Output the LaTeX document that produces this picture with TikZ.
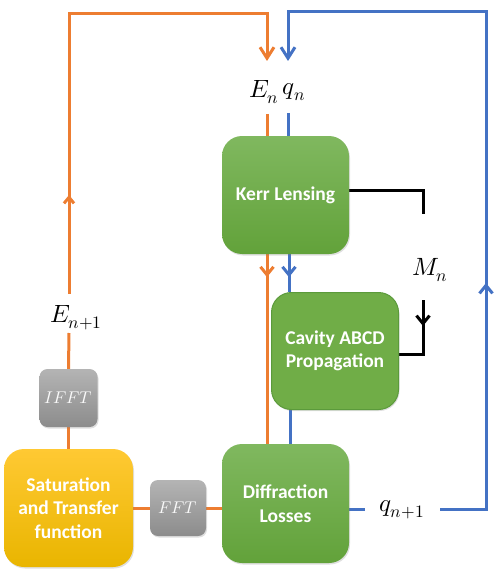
\documentclass[tikz,border=0pt]{standalone}
\usepackage{fontspec}
\setmainfont{Carlito}
\usepackage{unicode-math}
\setmathfont{Latin Modern Math}
\usetikzlibrary{arrows.meta,shadows,decorations.markings,backgrounds}
\definecolor{gtop}{HTML}{80B85F}
\definecolor{gbot}{HTML}{62A23A}
\definecolor{gflat}{HTML}{70AD47}
\definecolor{gedge}{HTML}{5B9A3B}
\definecolor{ytop}{HTML}{FFC933}
\definecolor{ybot}{HTML}{E9B500}
\definecolor{ktop}{HTML}{B4B4B4}
\definecolor{kbot}{HTML}{8C8C8C}
\definecolor{corange}{HTML}{ED7D31}
\definecolor{cblue}{HTML}{4472C4}
\begin{document}
\begin{tikzpicture}[x=1pt,y=-1pt,
  boxshadow/.style={drop shadow={opacity=0.25,shadow xshift=1pt,shadow yshift=-1.5pt}},
  bigbox/.style={rounded corners=20pt,draw=none,text=white,align=center,inner sep=0pt,
    font=\bfseries\fontsize{19.5}{23.5}\selectfont,boxshadow},
  greenbox/.style={bigbox,top color=gtop,bottom color=gbot},
  flatbox/.style={bigbox,fill=gflat,draw=gedge,line width=1pt},
  yellowbox/.style={bigbox,top color=ytop,bottom color=ybot},
  graybox/.style={rounded corners=8pt,top color=ktop,bottom color=kbot,draw=none,
    text=white!96!gray,inner sep=0pt,font=\fontsize{17}{19}\selectfont,boxshadow},
  mlabel/.style={inner sep=0pt,font=\fontsize{25}{28}\selectfont},
  oline/.style={draw=corange,line width=3pt},
  bline/.style={draw=cblue,line width=3pt},
  kline/.style={draw=black,line width=3pt},
  bigtip/.style={-{Straight Barb[length=11pt,width=14pt]}},
  midarrow/.style={postaction={decorate,decoration={markings,
     mark=at position #1 with {\arrow{Straight Barb[length=8pt,width=13pt]}}}}},
  smallarrow/.style={postaction={decorate,decoration={markings,
     mark=at position #1 with {\arrow{Straight Barb[length=6pt,width=10pt]}}}}}
]
\useasboundingbox (0,0) rectangle (498,575);

% boxes
\node[greenbox,minimum width=127pt,minimum height=118pt] (kerr) at (285.5,195) {Kerr Lensing};
\node[flatbox,minimum width=127pt,minimum height=117pt] (cav) at (335,351) {Cavity ABCD\\Propagation};
\node[greenbox,minimum width=127pt,minimum height=119pt] (diff) at (285.5,503.5) {Diffraction\\Losses};
\node[yellowbox,minimum width=129pt,minimum height=118pt] (sat) at (68.5,508) {Saturation\\and Transfer\\function};
\node[graybox,minimum width=56pt,minimum height=56pt] (fft) at (178,508) {$FFT$};
\node[graybox,minimum width=58pt,minimum height=58pt] (ifft) at (68.5,398) {$IFFT$};

% labels
\node[mlabel] (en) at (264,92) {$E_n$};
\node[mlabel] (qn) at (294,92) {$q_n$};
\node[mlabel] (enp1) at (76,318) {$E_{n+1}$};
\node[mlabel] (qnp1) at (402,510) {$q_{n+1}$};
\node[mlabel] (mn) at (430,270) {$M_n$};

% helper coordinates
\coordinate (otop) at (267,61);
\coordinate (btop) at (288,61);
\coordinate (oleft) at (69,294);
\coordinate (ebelow) at (69,333);
\coordinate (olow) at (267,114);
\coordinate (blow) at (288,113);
\coordinate (bend) at (365,509);
\coordinate (bstart) at (440,509);
\coordinate (kcorner) at (423,214);
\coordinate (mstart) at (423,300);

\begin{scope}[on background layer]
% orange connectors
\draw[oline] (fft.west) -- (sat.east |- fft.west);
\draw[oline] (fft.east) -- (diff.west |- fft.east);
\draw[oline] (sat.north) -- (ifft.south);
\draw[oline] (ifft.north) -- (ebelow);
\draw[oline,bigtip,smallarrow=99pt] (oleft) -- (69,14) -- (267,14) -- (otop);
\draw[oline] (olow) -- (kerr.north -| olow);
\draw[oline,midarrow=23pt] (kerr.south -| otop) -- (diff.north -| otop);

% blue connectors
\draw[bline] (diff.east |- bend) -- (bend);
\draw[bline,bigtip,midarrow=272pt] (bstart) -- (486,509) -- (486,12) -- (288,12) -- (btop);
\draw[bline] (blow) -- (kerr.north -| blow);
\draw[bline,midarrow=23pt] (kerr.south -| 289,0) -- (cav.north -| 289,0);
\draw[bline] (cav.south -| 290,0) -- (diff.north -| 290,0);

% black connectors
\draw[kline] (kerr.east |- 0,190) -- (423,190) -- (kcorner);
\draw[kline,midarrow=26pt] (mstart) -- (423,354) -- (cav.east |- 0,354);
\end{scope}
\end{tikzpicture}
\end{document}
